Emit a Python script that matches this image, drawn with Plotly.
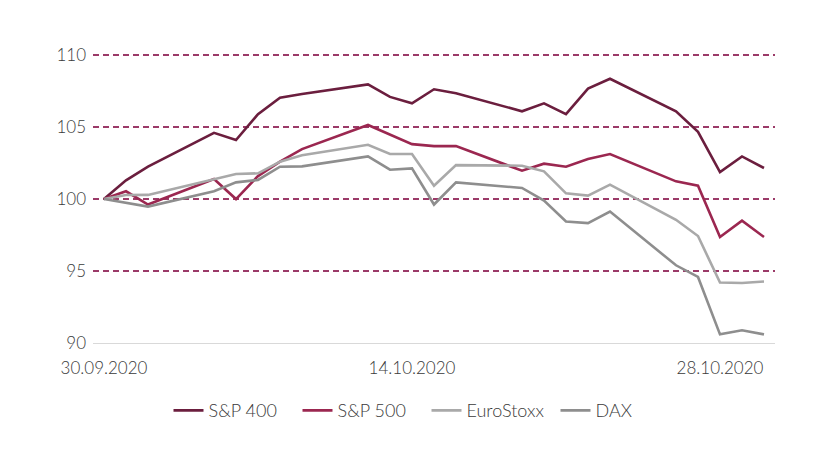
import plotly.graph_objects as go

dates = ["2020-09-30", "2020-10-01", "2020-10-02", "2020-10-05", "2020-10-06", "2020-10-07",
         "2020-10-08", "2020-10-09", "2020-10-12", "2020-10-13", "2020-10-14", "2020-10-15",
         "2020-10-16", "2020-10-19", "2020-10-20", "2020-10-21", "2020-10-22", "2020-10-23",
         "2020-10-26", "2020-10-27", "2020-10-28", "2020-10-29", "2020-10-30"]

sp400 = [100.0, 101.3, 102.25, 104.6, 104.1, 105.9, 107.05, 107.3, 107.97, 107.1, 106.65, 107.63,
         107.35, 106.1, 106.65, 105.9, 107.67, 108.36, 106.1, 104.67, 101.88, 102.96, 102.16]
sp500 = [100.0, 100.54, 99.62, 101.4, 100.0, 101.6, 102.6, 103.47, 105.15, 104.46, 103.82, 103.68,
         103.68, 101.97, 102.46, 102.25, 102.78, 103.13, 101.23, 100.93, 97.36, 98.5, 97.36]
eurostoxx = [100.0, 100.28, 100.29, 101.4, 101.74, 101.79, 102.6, 103.05, 103.77, 103.13, 103.13, 100.93,
             102.36, 102.32, 101.93, 100.4, 100.24, 101.0, 98.56, 97.43, 94.2, 94.17, 94.27]
dax = [100.0, 99.74, 99.48, 100.54, 101.16, 101.33, 102.25, 102.27, 102.96, 102.04, 102.13, 99.62,
       101.16, 100.77, 99.9, 98.44, 98.33, 99.13, 95.4, 94.59, 90.6, 90.88, 90.6]

series_names = ["S&P 400", "S&P 500", "EuroStoxx", "DAX"]
series_values = [sp400, sp500, eurostoxx, dax]
series_colors = ["#6b1e3e", "#9b2750", "#a9a9a9", "#8e8e8e"]

x_tick_vals = ["2020-09-30", "2020-10-14", "2020-10-28"]
x_tick_text = ["30.09.2020", "14.10.2020", "28.10.2020"]
y_ticks = [90, 95, 100, 105, 110]

fig = go.Figure()
for name, vals, col in zip(series_names, series_values, series_colors):
    fig.add_trace(go.Scatter(x=dates, y=vals, name=name, mode="lines",
                             line=dict(color=col, width=2.6)))

font_family = "Lato, Open Sans, sans-serif"
tick_font = dict(family=font_family, size=17, color="#3a3a3a", weight=300)
legend_font = dict(family=font_family, size=18, color="#3a3a3a", weight=300)
fig.update_layout(
    width=822, height=452,
    margin=dict(l=85, r=55, t=46, b=117),
    paper_bgcolor="white", plot_bgcolor="white",
    font=tick_font,
    showlegend=True,
    legend=dict(orientation="h", x=0.489, xanchor="center", y=-0.17, yanchor="top",
                font=legend_font, tracegroupgap=0, entrywidth=84, itemwidth=30),
    xaxis=dict(type="date", range=["2020-09-29 12:00", "2020-10-30 12:00"],
               tickvals=x_tick_vals, ticktext=x_tick_text, showgrid=False,
               showline=True, linecolor="#d9d9d9", linewidth=1,
               ticks="", zeroline=False, ticklabelstandoff=10, tickfont=tick_font),
    yaxis=dict(range=[90, 110.08], tickvals=y_ticks, showgrid=True,
               gridcolor="#9b3a68", griddash="6px,4px", gridwidth=1.5,
               zeroline=False, showline=False, ticks="", ticklabelstandoff=6,
               tickfont=tick_font),
)

fig.write_html("out.html")
